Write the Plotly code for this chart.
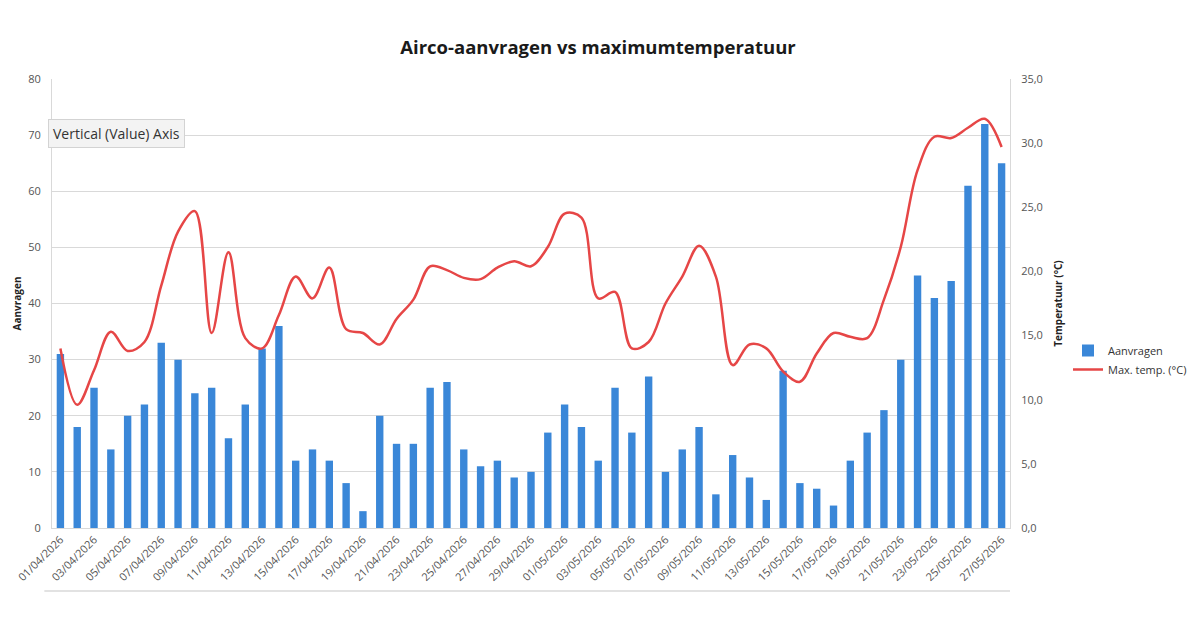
import pandas as pd
import plotly.graph_objects as go

# ---- data ----
dates = [d.strftime("%d/%m/%Y") for d in pd.date_range("2026-04-01", "2026-05-27", freq="D")]

aanvragen = [31, 18, 25, 14, 20, 22, 33, 30, 24, 25,
             16, 22, 32, 36, 12, 14, 12, 8, 3, 20,
             15, 15, 25, 26, 14, 11, 12, 9, 10, 17,
             22, 18, 12, 25, 17, 27, 10, 14, 18, 6,
             13, 9, 5, 28, 8, 7, 4, 12, 17, 21,
             30, 45, 41, 44, 61, 72, 65]

max_temp = [14.0, 9.6, 12.3, 15.3, 13.8, 14.5, 18.9, 23.1, 24.7, 15.2,
            21.5, 14.8, 14.0, 16.6, 19.6, 17.9, 20.3, 15.5, 15.2, 14.3,
            16.3, 17.8, 20.4, 20.1, 19.5, 19.4, 20.3, 20.8, 20.4, 21.9,
            24.5, 24.2, 17.9, 18.4, 14.0, 14.5, 17.5, 19.6, 22.0, 19.6,
            12.7, 14.3, 14.0, 12.2, 11.4, 13.6, 15.2, 14.9, 14.8, 17.8,
            21.9, 27.9, 30.5, 30.4, 31.2, 31.9, 29.7]

tick_labels = dates[::2]

BLUE = "#3a87d8"
RED = "#e64646"
GRID = "#d9d9d9"
TXT = "#555555"
FONT = "Open Sans"

fig = go.Figure()
fig.add_trace(go.Bar(x=dates, y=aanvragen, name="Aanvragen", marker_color=BLUE,
                     marker_line_width=0, yaxis="y"))
fig.add_trace(go.Scatter(x=dates, y=max_temp, name="Max. temp. (°C)", mode="lines",
                         line=dict(color=RED, width=2.5, shape="spline", smoothing=1.0),
                         yaxis="y2"))

fig.update_layout(
    width=1200, height=630,
    margin=dict(l=52, r=190, t=79, b=102, autoexpand=False),
    paper_bgcolor="white", plot_bgcolor="white",
    separators=",.",
    bargap=0.56,
    font=dict(family=FONT, size=11, color=TXT),
    title=dict(text="<b>Airco-aanvragen vs maximumtemperatuur</b>",
               x=598 / 1200, xanchor="center", y=1 - 48 / 630, yanchor="middle",
               font=dict(family=FONT, size=18.5, color="#1a1a1a")),
    xaxis=dict(type="category", tickmode="array", tickvals=tick_labels, ticktext=tick_labels,
               tickangle=-45, showgrid=False, showline=True, linecolor=GRID, linewidth=1,
               ticks="", tickfont=dict(size=11, color=TXT), automargin=False),
    yaxis=dict(range=[0, 80], dtick=10, showgrid=True, gridcolor=GRID, gridwidth=1,
               showline=True, linecolor=GRID, zeroline=False, ticks="", ticklabelstandoff=8,
               tickfont=dict(size=11, color=TXT), automargin=False,
               title=dict(text="<b>Aanvragen</b>", font=dict(size=10, color="#222"), standoff=4)),
    yaxis2=dict(range=[0, 35], dtick=5, tickformat=".1f", overlaying="y", side="right",
                showgrid=False, showline=True, linecolor=GRID, zeroline=False, ticks="",
                ticklabelstandoff=8, tickfont=dict(size=11, color=TXT), automargin=False,
                title=dict(text="<b>Temperatuur (°C)</b>", font=dict(size=10, color="#222"), standoff=13)),
    legend=dict(xref="container", x=1068 / 1200, xanchor="left",
                yref="container", y=1 - 336 / 630, yanchor="top", bgcolor="rgba(0,0,0,0)",
                font=dict(size=11, color="#333"), tracegroupgap=4),
    showlegend=True,
)

# bottom border line of chart area
fig.add_shape(type="line", xref="paper", yref="paper", x0=-0.008, x1=1.0,
              y0=-(591 - 528) / 449, y1=-(591 - 528) / 449,
              line=dict(color=GRID, width=1.5))

# tooltip overlay seen in reference
fig.add_annotation(text="Vertical (Value) Axis", xref="paper", yref="paper",
                   x=(48 - 52) / 958, y=(528 - 133) / 449, xanchor="left", yanchor="middle",
                   showarrow=False, font=dict(family=FONT, size=14, color="#333"),
                   bgcolor="#f3f3f3", bordercolor="#d3d3d3", borderwidth=1, borderpad=4)

fig.write_html("out.html")
